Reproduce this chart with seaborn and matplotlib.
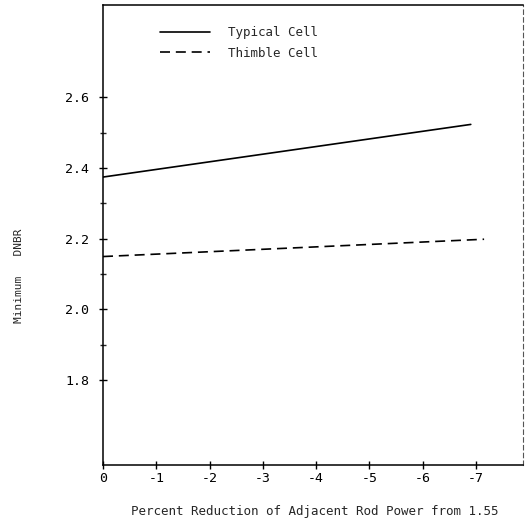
import matplotlib
matplotlib.use("Agg")
import matplotlib.pyplot as plt
import seaborn as sns
import pandas as pd

# Data
typical_x = [0, -6.9]
typical_y = [2.374, 2.523]
thimble_x = [0, -7.15]
thimble_y = [2.149, 2.198]
series_names = ["Typical Cell", "Thimble Cell"]
x_ticks = [0, -1, -2, -3, -4, -5, -6, -7]
y_ticks = [1.8, 2.0, 2.2, 2.4, 2.6]
y_minor = [1.9, 2.1, 2.3, 2.5]

df = pd.DataFrame({
    "x": typical_x + thimble_x,
    "y": typical_y + thimble_y,
    "series": [series_names[0]] * len(typical_x) + [series_names[1]] * len(thimble_x),
})

sns.set_style("ticks")
plt.rcParams["font.family"] = ["DejaVu Sans Mono", "DejaVu Sans"]

fig = plt.figure(figsize=(5.30, 5.29), dpi=100)
ax = fig.add_axes([103 / 530, 1 - 465 / 529, (523 - 103) / 530, (465 - 5) / 529])

sns.lineplot(data=df, x="x", y="y", style="series", style_order=series_names,
             dashes={series_names[0]: "", series_names[1]: (6, 3.5)},
             color="black", linewidth=1.2, ax=ax, legend=True, sort=False)

ax.set_xlim(0, -7.88)
ax.set_ylim(1.559, 2.861)
ax.set_xticks(x_ticks)
ax.set_xticklabels([str(v) for v in x_ticks])
ax.set_yticks(y_ticks)
ax.set_yticklabels([f"{v:.1f}" for v in y_ticks])
ax.set_yticks(y_minor, minor=True)

ax.tick_params(axis="both", which="major", direction="inout", length=6, width=1,
               labelsize=9.5, colors="black")
ax.tick_params(axis="y", which="major", pad=7)
ax.tick_params(axis="x", which="major", pad=2)
ax.tick_params(axis="y", which="minor", direction="inout", length=5, width=1)

for side in ["left", "bottom", "top"]:
    ax.spines[side].set_visible(True)
    ax.spines[side].set_color("black")
    ax.spines[side].set_linewidth(1.1)
ax.spines["right"].set_visible(True)
ax.spines["right"].set_color("#555555")
ax.spines["right"].set_linewidth(0.8)
ax.spines["right"].set_linestyle((0, (4, 3)))

ax.set_xlabel("")
ax.set_ylabel("")
fig.text(315 / 530, 1 - 512 / 529, "Percent Reduction of Adjacent Rod Power from 1.55",
         ha="center", va="center", fontsize=9)
fig.text(19 / 530, 1 - 276 / 529, "Minimum   DNBR", rotation=90,
         ha="center", va="center", fontsize=8)

leg = ax.legend(loc="upper left", bbox_to_anchor=(0.108, 0.979), frameon=False,
                fontsize=9, handlelength=4.0, handletextpad=1.5, labelspacing=0.62)

fig.savefig("out.png", dpi=100)
